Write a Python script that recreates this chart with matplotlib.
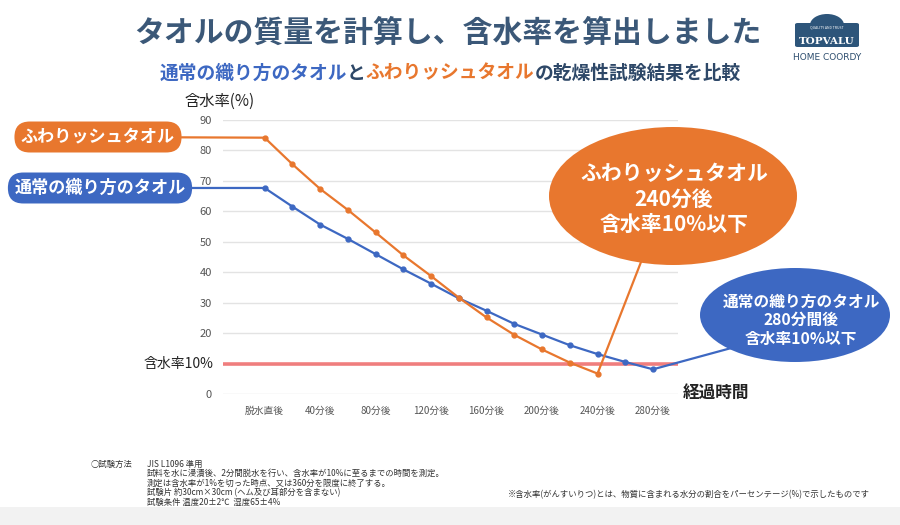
import matplotlib
matplotlib.use("Agg")
import matplotlib.pyplot as plt
from matplotlib.patches import Ellipse, Rectangle, FancyBboxPatch
from matplotlib.offsetbox import TextArea, HPacker, AnnotationBbox
import numpy as np

plt.rcParams['font.family'] = ['Noto Sans CJK JP', 'DejaVu Sans']

# ---- data ----
fluffy_name = "ふわりッシュタオル"
normal_name = "通常の織り方のタオル"
fluffy_values = [84.2, 75.5, 67.4, 60.5, 53.1, 45.6, 38.8, 31.7, 25.2, 19.5, 14.7, 10.4, 6.8]
normal_values = [67.7, 61.6, 55.7, 51.0, 46.0, 41.0, 36.3, 31.5, 27.4, 23.1, 19.6, 16.1, 13.2, 10.6, 8.2]
tick_labels = ["脱水直後", "40分後", "80分後", "120分後", "160分後", "200分後", "240分後", "280分後"]
y_ticks = [0, 10, 20, 30, 40, 50, 60, 70, 80, 90]
threshold = 10

ORANGE = "#E8772E"
BLUE = "#3D68C2"
RED = "#F07272"
TITLE = "#3B5878"
DARK = "#2E4868"

W, H = 900, 525
fig = plt.figure(figsize=(9, 5.25), dpi=100)
fig.patch.set_facecolor("white")

def fx(px):
    return px / W

def fy(py):
    return 1 - py / H

ax = fig.add_axes([fx(223), fy(394.3), fx(678) - fx(223), fy(120) - fy(394.3)])
ax.set_xlim(-1.5, 14.9)
ax.set_ylim(0, 90)
for s in ax.spines.values():
    s.set_visible(False)
ax.set_yticks(y_ticks)
ax.set_yticklabels(["" if v == threshold else str(v) for v in y_ticks], fontsize=8, color="#555555")
ax.tick_params(axis="y", length=0, pad=8)
ax.yaxis.grid(True, color="#E3E3E3", lw=1)
ax.set_axisbelow(True)
ax.set_xticks(np.arange(0, 2 * len(tick_labels), 2))
ax.set_xticklabels(tick_labels, fontsize=7, color="#555555")
ax.tick_params(axis="x", length=0, pad=8)

ax.axhline(threshold, color=RED, lw=2.6, alpha=0.9, zorder=1)

xf = np.arange(len(fluffy_values))
xn = np.arange(len(normal_values))
ax.plot(xn, normal_values, color=BLUE, lw=1.6, marker="o", ms=3.5, zorder=3)
ax.plot(xf, fluffy_values, color=ORANGE, lw=1.6, marker="o", ms=3.5, zorder=4)

# axis titles
fig.text(fx(220), fy(101), "含水率(%)", fontsize=11, color="#222222", ha="center", va="center")
fig.text(fx(213), fy(364), "含水率10%", fontsize=10, color="#222222", ha="right", va="center")
fig.text(fx(683), fy(393), "経過時間", fontsize=12, color="#222222", ha="left", va="center", fontweight="bold")

# pill labels with connectors
for name, vals, color, cx, cy in [(fluffy_name, fluffy_values, ORANGE, 98, 137),
                                  (normal_name, normal_values, BLUE, 100, 188)]:
    ax.annotate(name, xy=(0, vals[0]), xycoords="data",
                xytext=(fx(cx), fy(cy)), textcoords="figure fraction",
                ha="center", va="center", fontsize=12.3, fontweight="bold", color="white",
                bbox=dict(boxstyle="round,pad=0.38,rounding_size=0.9", fc=color, ec="none"),
                arrowprops=dict(arrowstyle="-", color=color, lw=1.6, shrinkA=0, shrinkB=0),
                annotation_clip=False, zorder=5)

# callout ellipses
e1 = Ellipse((fx(673), fy(196)), fx(248), 138 / H, transform=fig.transFigure,
             fc=ORANGE, ec="none", zorder=6)
fig.add_artist(e1)
ax.annotate("", xy=(len(fluffy_values) - 1, fluffy_values[-1]), xycoords="data",
            xytext=(fx(641), fy(262)), textcoords="figure fraction",
            arrowprops=dict(arrowstyle="-", color=ORANGE, lw=1.6, shrinkA=0, shrinkB=0),
            annotation_clip=False)
fig.text(fx(674), fy(199), "ふわりッシュタオル\n240分後\n含水率10%以下", fontsize=15,
         fontweight="bold", color="white", ha="center", va="center", linespacing=1.25,
         zorder=7)

e2 = Ellipse((fx(795), fy(315)), fx(190), 94 / H, transform=fig.transFigure,
             fc=BLUE, ec="none", zorder=6)
fig.add_artist(e2)
ax.annotate("", xy=(len(normal_values) - 1, normal_values[-1]), xycoords="data",
            xytext=(fx(735), fy(347)), textcoords="figure fraction",
            arrowprops=dict(arrowstyle="-", color=BLUE, lw=1.6, shrinkA=0, shrinkB=0),
            annotation_clip=False)
fig.text(fx(801), fy(320), "通常の織り方のタオル\n280分間後\n含水率10%以下", fontsize=11.3,
         fontweight="bold", color="white", ha="center", va="center", linespacing=1.2,
         zorder=7)

# titles
fig.text(fx(448), fy(33), "タオルの質量を計算し、含水率を算出しました", fontsize=21.5,
         fontweight="bold", color=TITLE, ha="center", va="center")
parts = [(normal_name, BLUE), ("と", DARK), (fluffy_name, ORANGE), ("の乾燥性試験結果を比較", DARK)]
boxes = [TextArea(t, textprops=dict(fontsize=13.5, fontweight="bold", color=c)) for t, c in parts]
pack = HPacker(children=boxes, pad=0, sep=0, align="center")
ab = AnnotationBbox(pack, (fx(450), fy(73)), xycoords="figure fraction", frameon=False,
                    box_alignment=(0.5, 0.5), pad=0)
fig.add_artist(ab)

# logo
logo = FancyBboxPatch((fx(795), fy(47)), fx(64), 24 / H, boxstyle="round,pad=0,rounding_size=0.003",
                      transform=fig.transFigure, fc="#2D557A", ec="none")
fig.add_artist(logo)
arch = Ellipse((fx(827), fy(25)), fx(34), 22 / H, transform=fig.transFigure, fc="#2D557A", ec="none")
fig.add_artist(arch)
fig.text(fx(827), fy(41), "TOPVALU", fontsize=7.5, fontweight="bold", color="white",
         ha="center", va="center", family="DejaVu Serif")
fig.text(fx(827), fy(27), "QUALITY AND TRUST", fontsize=2.5, color="white", ha="center", va="center")
fig.text(fx(827), fy(58), "HOME COORDY", fontsize=6.5, color="#2D4D6E", ha="center", va="center",
         family="Liberation Sans Narrow")

# footnotes
fig.add_artist(Rectangle((0, 0), 1, fy(507), transform=fig.transFigure, fc="#F2F2F2", ec="none", zorder=0))
fig.text(fx(91), fy(464), "○試験方法", fontsize=6, color="#333333", ha="left", va="center")
notes = ["JIS L1096 準用",
         "試料を水に浸漬後、2分間脱水を行い、含水率が10%に至るまでの時間を測定。",
         "測定は含水率が1%を切った時点、又は360分を限度に終了する。",
         "試験片 約30cm×30cm (ヘム及び耳部分を含まない)",
         "試験条件 温度20±2℃  湿度65±4%"]
for i, line in enumerate(notes):
    fig.text(fx(147), fy(464 + 9.6 * i), line, fontsize=6, color="#333333", ha="left", va="center")
fig.text(fx(870), fy(495), "※含水率(がんすいりつ)とは、物質に含まれる水分の割合をパーセンテージ(%)で示したものです",
         fontsize=6, color="#333333", ha="right", va="center")

fig.savefig("out.png", dpi=100)
